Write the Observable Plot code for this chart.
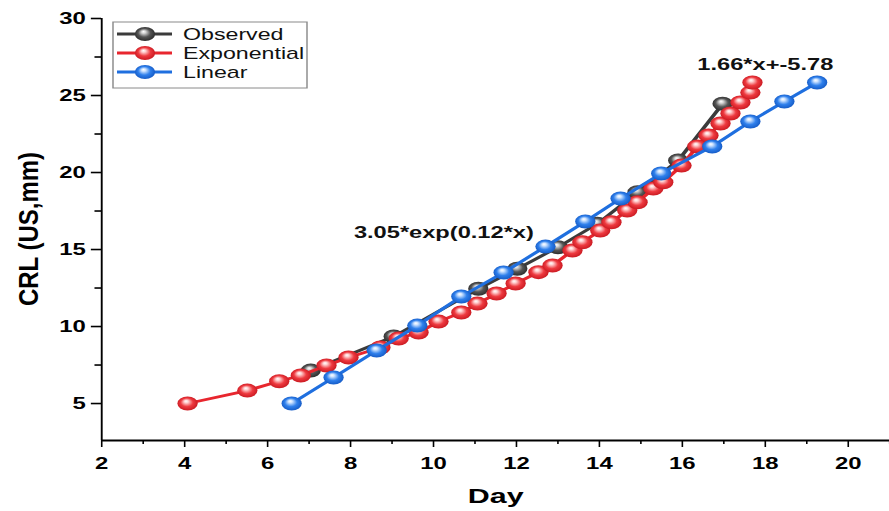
<!DOCTYPE html>
<html>
<head>
<meta charset="utf-8">
<script src="https://cdn.jsdelivr.net/npm/d3@7"></script>
<script src="https://cdn.jsdelivr.net/npm/@observablehq/plot@0.6"></script>
<style>
  html, body { margin: 0; padding: 0; background: white; }
  #chart { width: 889px; height: 511px; overflow: hidden; }
</style>
</head>
<body>
<div id="chart"></div>
<script>
// ---- data ----
const seriesNames = ["Observed", "Exponential", "Linear"];

const observedDay = [7.04, 9.04, 11.08, 12.02, 13.0, 13.95, 14.92, 15.9, 16.97];
const observedCRL = [7.14, 9.35, 12.45, 13.75, 15.15, 16.67, 18.72, 20.78, 24.46];

const expDay = [4.07, 5.51, 6.28, 6.80, 7.42, 7.95, 8.72, 9.16, 9.64, 10.12, 10.67, 11.06, 11.52, 11.98,
                12.53, 12.87, 13.35, 13.59, 14.02, 14.29, 14.67, 14.92, 15.30, 15.54, 15.98, 16.36,
                16.63, 16.92, 17.16, 17.40, 17.64, 17.69];
const expCRL = [5.00, 5.84, 6.45, 6.82, 7.47, 7.99, 8.64, 9.22, 9.61, 10.32, 10.91, 11.49, 12.14, 12.79,
                13.53, 13.96, 14.94, 15.47, 16.23, 16.77, 17.53, 18.07, 18.96, 19.37, 20.45, 21.69,
                22.40, 23.18, 23.83, 24.55, 25.19, 25.84];

const linDay = [6.58, 7.59, 8.63, 9.61, 10.67, 11.69, 12.70, 13.66, 14.51, 15.49, 16.72, 17.64, 18.46, 19.25];
const linCRL = [5.00, 6.69, 8.44, 10.06, 11.95, 13.51, 15.19, 16.82, 18.31, 19.94, 21.69, 23.31, 24.61, 25.84];

const xMajorTicks = [2, 4, 6, 8, 10, 12, 14, 16, 18, 20];
const xMinorTicks = [3, 5, 7, 9, 11, 13, 15, 17, 19, 21];
const yMajorTicks = [5, 10, 15, 20, 25, 30];
const yMinorTicks = [7.5, 12.5, 17.5, 22.5, 27.5];

const xLabel = "Day";
const yLabel = "CRL (US,mm)";
const expFitLabel = "3.05*exp(0.12*x)";
const linFitLabel = "1.66*x+-5.78";

// ---- tables ----
const toRows = (xs, ys) => xs.map((d, i) => ({day: d, crl: ys[i]}));
const obsRows = toRows(observedDay, observedCRL);
const expRows = toRows(expDay, expCRL);
const linRows = toRows(linDay, linCRL);

const lineColors = {Observed: "#3b3b3b", Exponential: "#e8262e", Linear: "#1f6fdf"};
const gradIds = {Observed: "gObs", Exponential: "gExp", Linear: "gLin"};

// The reference is horizontally stretched; draw narrow and stretch.
const STRETCH = 1.45;
const W = 889 / STRETCH;
const H = 511;
const ML = 101 / STRETCH;

const R = 7;
const font = "'Liberation Sans', Arial, Helvetica, sans-serif";

const series = (rows, name) => [
  Plot.line(rows, {x: "day", y: "crl", stroke: lineColors[name], strokeWidth: 2.8}),
  Plot.dot(rows, {x: "day", y: "crl", r: R, fill: `url(#${gradIds[name]})`, stroke: "none"})
];

const svg = Plot.plot({
  width: W,
  height: H,
  marginLeft: ML,
  marginRight: 0,
  marginTop: 18,
  marginBottom: 71,
  x: {domain: [2, 21]},
  y: {domain: [2.6, 30]},
  style: {fontFamily: font, background: "white", color: "black", overflow: "visible"},
  marks: [
    Plot.axisX({ticks: xMajorTicks, tickSize: 7, tickPadding: 10, fontSize: 16.5, fontWeight: "bold",
                label: null, strokeWidth: 1.1}),
    Plot.axisX({ticks: xMinorTicks, tickSize: 4, tickFormat: () => "", label: null, strokeWidth: 1.1}),
    Plot.axisY({ticks: yMajorTicks, tickSize: 7, tickPadding: 4, fontSize: 16.5, fontWeight: "bold",
                label: null, strokeWidth: 1.6}),
    Plot.axisY({ticks: yMinorTicks, tickSize: 4.5, tickFormat: () => "", label: null, strokeWidth: 1.6}),
    Plot.ruleX([2], {strokeWidth: 1.3}),
    Plot.ruleY([2.6], {strokeWidth: 2}),
    ...series(obsRows, "Observed"),
    ...series(expRows, "Exponential"),
    ...series(linRows, "Linear"),
    Plot.text([expFitLabel], {x: 10.25, y: 16.1, text: d => d, fontSize: 16.3, fontWeight: "bold", fill: "#111"}),
    Plot.text([linFitLabel], {x: 18.0, y: 27.0, text: d => d, fontSize: 16.3, fontWeight: "bold", fill: "#111"}),
    Plot.text([xLabel], {frameAnchor: "bottom", dy: 62, text: d => d, fontSize: 21, fontWeight: "bold"})
  ]
});

// stretch horizontally
svg.setAttribute("viewBox", `0 0 ${W} ${H}`);
svg.setAttribute("width", 889);
svg.setAttribute("height", H);
svg.setAttribute("preserveAspectRatio", "none");
svg.style.width = "889px";
svg.style.height = H + "px";
svg.style.maxWidth = "none";

const s = d3.select(svg);

// y-axis title (rotated, compressed in screen-x to match the reference)
s.append("text")
  .attr("transform", `translate(${28 / STRETCH},229) rotate(-90) scale(1,0.78)`)
  .attr("text-anchor", "middle")
  .attr("dy", "0.35em")
  .attr("font-family", font)
  .attr("font-weight", "bold")
  .attr("font-size", 24)
  .attr("fill", "black")
  .text(yLabel);

// glossy sphere gradients
const defs = s.insert("defs", ":first-child");
const gradSpec = [
  {id: "gObs", hi: "#d8d8d8", mid: "#555555", lo: "#262626"},
  {id: "gExp", hi: "#ffd2d2", mid: "#ee3a40", lo: "#c4141c"},
  {id: "gLin", hi: "#cfe4ff", mid: "#2f80ec", lo: "#1155c0"}
];
for (const g of gradSpec) {
  const rg = defs.append("radialGradient").attr("id", g.id)
    .attr("cx", "0.5").attr("cy", "0.5").attr("r", "0.55")
    .attr("fx", "0.42").attr("fy", "0.32");
  rg.append("stop").attr("offset", "0%").attr("stop-color", "#ffffff");
  rg.append("stop").attr("offset", "18%").attr("stop-color", g.hi);
  rg.append("stop").attr("offset", "55%").attr("stop-color", g.mid);
  rg.append("stop").attr("offset", "100%").attr("stop-color", g.lo);
}

// legend (in unstretched coordinates)
const lg = s.append("g").attr("class", "legend");
const bx0 = 113 / STRETCH, bx1 = 307 / STRETCH;
lg.append("rect").attr("x", bx0).attr("y", 22).attr("width", bx1 - bx0).attr("height", 66)
  .attr("fill", "white").attr("stroke", "#8a8a8a").attr("stroke-width", 1);
const rowsY = [34, 53, 72];
seriesNames.forEach((name, i) => {
  const y = rowsY[i];
  lg.append("line").attr("x1", 117 / STRETCH).attr("x2", 172 / STRETCH).attr("y1", y).attr("y2", y)
    .attr("stroke", lineColors[name]).attr("stroke-width", 3);
  lg.append("circle").attr("cx", 145 / STRETCH).attr("cy", y).attr("r", R)
    .attr("fill", `url(#${gradIds[name]})`);
  lg.append("text").attr("x", 183 / STRETCH).attr("y", y).attr("dy", "0.35em")
    .attr("text-anchor", "start")
    .attr("font-family", font).attr("font-size", 16).attr("fill", "#111").text(name);
});

document.getElementById("chart").appendChild(svg);
</script>
</body>
</html>
